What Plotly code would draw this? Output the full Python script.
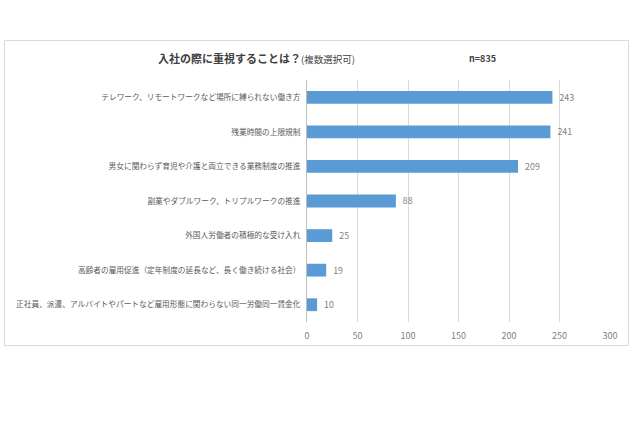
import plotly.graph_objects as go

categories = [
    "テレワーク、リモートワークなど場所に縛られない働き方",
    "残業時間の上限規制",
    "男女に関わらず育児や介護と両立できる業務制度の推進",
    "副業やダブルワーク、トリプルワークの推進",
    "外国人労働者の積極的な受け入れ",
    "高齢者の雇用促進（定年制度の延長など、長く働き続ける社会）",
    "正社員、派遣、アルバイトやパートなど雇用形態に関わらない同一労働同一賃金化",
]
values = [243, 241, 209, 88, 25, 19, 10]
x_ticks = [0, 50, 100, 150, 200, 250, 300]

W, H = 640, 426
L, R, T, B = 307, 30, 80, 104
pw, ph = W - L - R, H - T - B

def px_x(p):
    return (p - L) / pw

def px_y(p):
    return (H - B - p) / ph

FONT = "Noto Sans CJK JP"

fig = go.Figure(go.Bar(
    x=values, y=categories, orientation="h",
    marker=dict(color="#5B9BD5", line=dict(width=0)),
    width=0.37,
    texttemplate="  %{x}", textposition="outside",
    textfont=dict(size=9, color="#808080", family=FONT),
    cliponaxis=False,
))

fig.update_layout(
    width=W, height=H,
    margin=dict(l=L, r=R, t=T, b=B),
    paper_bgcolor="white", plot_bgcolor="white",
    showlegend=False,
    font=dict(family=FONT, color="#595959"),
    xaxis=dict(range=[0, 300], tickvals=x_ticks, showgrid=True,
               gridcolor="#D9D9D9", gridwidth=1, zeroline=False,
               tickfont=dict(size=9, color="#808080"), ticks="",
               ticklabelstandoff=7, showline=False, automargin=False),
    yaxis=dict(autorange="reversed", showline=True, linecolor="#BFBFBF",
               linewidth=1, ticks="", tickfont=dict(size=7.7, color="#595959"),
               ticklabelstandoff=4, automargin=False),
    shapes=[dict(type="rect", xref="paper", yref="paper",
                 x0=px_x(4.5), x1=px_x(628.5), y0=px_y(345.5), y1=px_y(40.5),
                 line=dict(color="#D9D9D9", width=1), layer="below")],
    annotations=[
        dict(xref="paper", yref="paper", x=px_x(156), y=px_y(58),
             xanchor="left", yanchor="middle", showarrow=False,
             text="<b>入社の際に重視することは？</b><span style='font-size:9.5px'>(複数選択可)</span>",
             font=dict(size=11, color="#404040", family=FONT)),
        dict(xref="paper", yref="paper", x=px_x(467), y=px_y(58),
             xanchor="left", yanchor="middle", showarrow=False,
             text="<b>n=835</b>",
             font=dict(size=9, color="#404040", family=FONT)),
    ],
)

fig.write_html("out.html")
